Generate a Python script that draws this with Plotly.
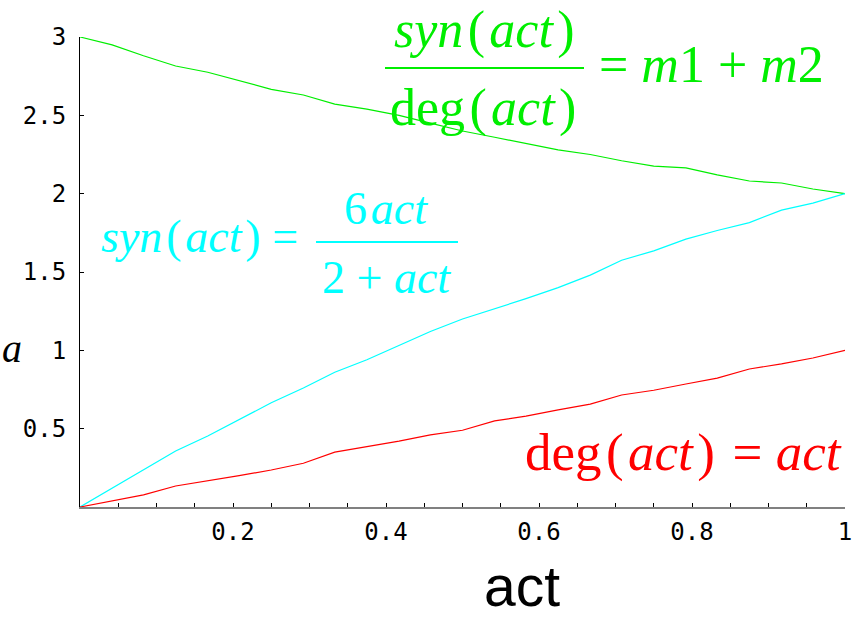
import plotly.graph_objects as go

# sampled activity values and the three response curves
act = [0, 0.042, 0.083, 0.125, 0.167, 0.208, 0.25, 0.292, 0.333, 0.375, 0.417, 0.458,
       0.5, 0.542, 0.583, 0.625, 0.667, 0.708, 0.75, 0.792, 0.833, 0.875, 0.917, 0.958, 1.0]
ratio = [3.0, 2.95, 2.88, 2.815, 2.775, 2.72, 2.666, 2.63, 2.572, 2.54, 2.5, 2.45,
         2.4, 2.36, 2.32, 2.28, 2.25, 2.21, 2.176, 2.164, 2.12, 2.081, 2.068, 2.03, 2.0]
syn = [0, 0.12, 0.24, 0.357, 0.453, 0.56, 0.665, 0.76, 0.86, 0.94, 1.03, 1.12,
       1.2, 1.265, 1.33, 1.4, 1.48, 1.575, 1.635, 1.71, 1.765, 1.815, 1.895, 1.94, 2.0]
deg = [0, 0.038, 0.077, 0.134, 0.166, 0.2, 0.236, 0.279, 0.35, 0.383, 0.42, 0.46,
       0.49, 0.55, 0.58, 0.62, 0.657, 0.715, 0.745, 0.785, 0.823, 0.881, 0.913, 0.951, 1.0]

x_ticks = [0.05, 0.1, 0.15, 0.2, 0.25, 0.3, 0.35, 0.4, 0.45, 0.5,
           0.55, 0.6, 0.65, 0.7, 0.75, 0.8, 0.85, 0.9, 0.95, 1.0]
x_labels = ["", "", "", "0.2", "", "", "", "0.4", "", "",
            "", "0.6", "", "", "", "0.8", "", "", "", "1"]
y_ticks = [0.5, 1, 1.5, 2, 2.5, 3]
y_labels = ["0.5", "1", "1.5", "2", "2.5", "3"]

GREEN = "#00ee00"
CYAN = "#00ffff"
RED = "#ff0000"

W, H = 853, 617
L, R, T, B = 80, 8, 37, 110
PW, PH = W - L - R, H - T - B
HS = "\u200a"  # hair space, opens up the parentheses in the formulas

SYN = "<i>syn</i>" + HS + "(" + HS + "<i>act</i>" + HS + ")"
DEG = "deg" + HS + "(" + HS + "<i>act</i>" + HS + ")"


def px(x):
    return (x - L) / PW


def py(y):
    return (H - B - y) / PH


fig = go.Figure()
for ys, col in [(ratio, GREEN), (syn, CYAN), (deg, RED)]:
    fig.add_trace(go.Scatter(x=act, y=ys, mode="lines",
                             line=dict(color=col, width=1.2),
                             showlegend=False, hoverinfo="skip"))

serif = "Liberation Serif"
ann = []
shapes = []


def text(s, x, y, size, color, xanchor="center", yanchor="middle", family=serif):
    ann.append(dict(text=s, x=px(x), y=py(y), xref="paper", yref="paper",
                    xanchor=xanchor, yanchor=yanchor, showarrow=False,
                    font=dict(family=family, size=size, color=color)))


def bar(x0, x1, y, color, w=2.2):
    shapes.append(dict(type="line", xref="paper", yref="paper",
                       x0=px(x0), x1=px(x1), y0=py(y), y1=py(y),
                       line=dict(color=color, width=w)))


# ratio label
text(SYN, 484, 30, 52, GREEN)
bar(385, 584, 68, GREEN)
text(DEG, 483, 108, 52, GREEN)
text("= <i>m</i>1 + <i>m</i>2", 597, 65, 52, GREEN, xanchor="left")

# synthesis label
text(SYN + " =", 99, 237, 46, CYAN, xanchor="left")
bar(316, 458, 242, CYAN, 2)
text("6" + HS + "<i>act</i>", 386, 208, 46, CYAN)
text("2 + <i>act</i>", 386, 277, 46, CYAN)

# degradation label
text(DEG + HS + " = <i>act</i>", 844, 452, 53, RED, xanchor="right")

# axis titles
text("<i>a</i>", 0, 348, 40, "black", xanchor="left")
text("act", 522, 620, 57, "black", yanchor="bottom", family="Liberation Sans")

tick_font = dict(family="DejaVu Sans Mono", size=24, color="black")
fig.update_layout(
    width=W, height=H,
    margin=dict(l=L, r=R, t=T, b=B, autoexpand=False),
    paper_bgcolor="white", plot_bgcolor="white",
    annotations=ann, shapes=shapes,
    xaxis=dict(range=[0, 1], showgrid=False, zeroline=False, automargin=False,
               showline=True, linecolor="#808080", linewidth=2,
               ticks="inside", ticklen=4, tickwidth=1, tickcolor="black",
               tickmode="array", tickvals=x_ticks, ticktext=x_labels,
               tickfont=tick_font, ticklabelstandoff=2),
    yaxis=dict(range=[0, 3], showgrid=False, zeroline=False, automargin=False,
               showline=True, linecolor="black", linewidth=1,
               ticks="inside", ticklen=4, tickwidth=1, tickcolor="black",
               tickmode="array", tickvals=y_ticks, ticktext=y_labels,
               tickfont=tick_font, ticklabelstandoff=8),
)

fig.write_html("out.html")
